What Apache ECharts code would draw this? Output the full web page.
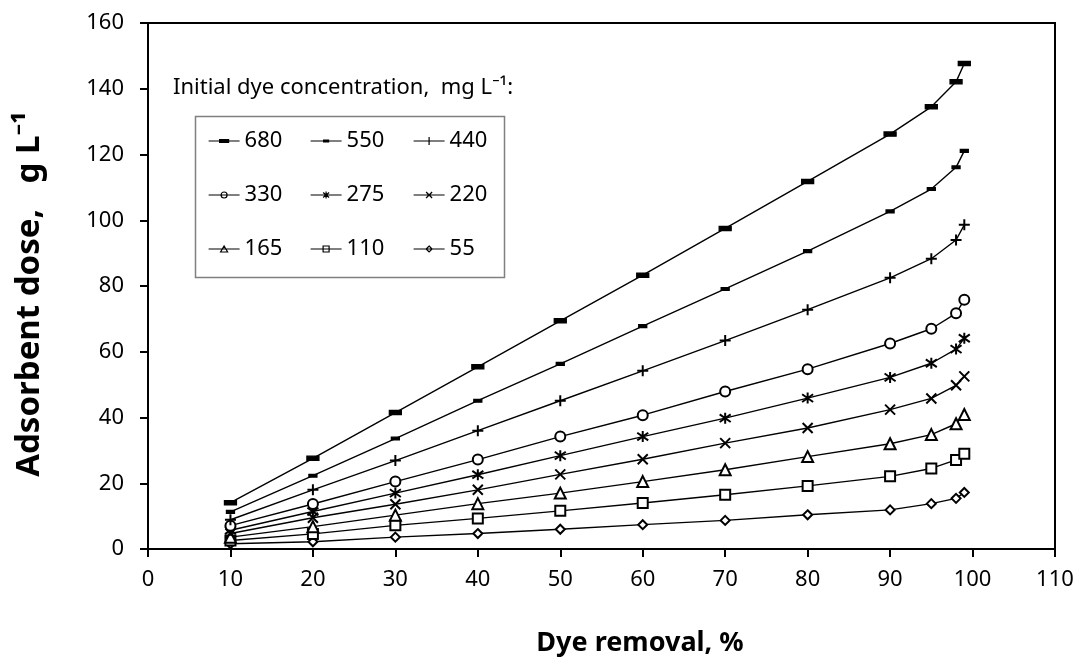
<!DOCTYPE html>
<html>
<head>
<meta charset="utf-8">
<script src="https://cdn.jsdelivr.net/npm/echarts@6/dist/echarts.min.js"></script>
<style>
html,body{margin:0;padding:0;background:#fff;}
#chart{width:1078px;height:657px;}
</style>
</head>
<body>
<div id="chart"></div>
<script>
// Dye removal (%) values
const removal = [10, 20, 30, 40, 50, 60, 70, 80, 90, 95, 98, 99];
// Series names (initial dye concentration, mg/L)
const seriesNames = ['680', '550', '440', '330', '275', '220', '165', '110', '55'];
// Adsorbent dose (g/L) for each initial concentration
const dose680 = [14.1, 27.6, 41.5, 55.4, 69.4, 83.3, 97.5, 111.8, 126.2, 134.5, 142.1, 147.7];
const dose550 = [11.3, 22.3, 33.6, 45.1, 56.3, 67.8, 79.1, 90.6, 102.7, 109.5, 116.1, 121.1];
const dose440 = [8.9, 18.0, 26.9, 36.0, 45.1, 54.2, 63.4, 72.8, 82.5, 88.3, 94.0, 98.6];
const dose330 = [7.1, 13.7, 20.5, 27.2, 34.2, 40.7, 47.9, 54.7, 62.5, 67.0, 71.7, 75.8];
const dose275 = [5.7, 11.4, 17.0, 22.6, 28.4, 34.2, 39.8, 45.9, 52.2, 56.5, 60.8, 64.1];
const dose220 = [4.7, 9.5, 13.6, 18.0, 22.7, 27.3, 32.2, 36.8, 42.4, 45.8, 49.8, 52.5];
const dose165 = [3.6, 6.8, 10.3, 13.8, 17.0, 20.5, 24.1, 28.1, 32.0, 34.8, 38.1, 40.9];
const dose110 = [2.6, 4.6, 7.2, 9.3, 11.6, 14.0, 16.5, 19.2, 22.1, 24.5, 27.1, 29.0];
const dose55 = [1.6, 2.2, 3.6, 4.7, 6.0, 7.4, 8.7, 10.4, 11.9, 13.8, 15.4, 17.2];
const doseData = [dose680, dose550, dose440, dose330, dose275, dose220, dose165, dose110, dose55];

const FONT = 'Noto Sans';
const symbols = [
  {symbol: 'path://M0,0H10V3.5H0Z', size: 12, keep: true},
  {symbol: 'path://M0,0H10V3.5H0Z', size: 8, keep: true},
  {symbol: 'emptyPath://M0,5L10,5M5,0L5,10', size: 11, keep: false},
  {symbol: 'emptyCircle', size: 10, keep: false},
  {symbol: 'emptyPath://M5,0L5,10M0.7,1.5L9.3,8.5M0.7,8.5L9.3,1.5', size: 11, keep: false},
  {symbol: 'emptyPath://M0,0L10,10M0,10L10,0', size: 10, keep: false},
  {symbol: 'emptyTriangle', size: 11, keep: false},
  {symbol: 'emptyRect', size: 10, keep: false},
  {symbol: 'emptyDiamond', size: 9, keep: false}
];

// legend icons: line + small marker, drawn in a 31 x 9 box
const BOX = 'M0,0M31,9M0,4.5L31,4.5';
const legendIcons = {
  '680': {icon: BOX + 'M11,3L20,3L20,6L11,6Z', fill: '#000'},
  '550': {icon: BOX + 'M13,3.5L18,3.5L18,5.5L13,5.5Z', fill: '#000'},
  '440': {icon: BOX + 'M15.5,0.5L15.5,8.5', fill: '#fff'},
  '330': {icon: BOX + 'M18.5,4.5A3,3,0,1,1,12.5,4.5A3,3,0,1,1,18.5,4.5Z', fill: '#fff'},
  '275': {icon: BOX + 'M15.5,1L15.5,8M12.5,2L18.5,7M12.5,7L18.5,2', fill: '#fff'},
  '220': {icon: BOX + 'M12.5,1.5L18.5,7.5M12.5,7.5L18.5,1.5', fill: '#fff'},
  '165': {icon: BOX + 'M15.5,1.5L19,7.5L12,7.5Z', fill: '#fff'},
  '110': {icon: BOX + 'M12.5,1.5L18.5,1.5L18.5,7.5L12.5,7.5Z', fill: '#fff'},
  '55':  {icon: BOX + 'M15.5,1.5L18.5,4.5L15.5,7.5L12.5,4.5Z', fill: '#fff'}
};

const series = seriesNames.map((name, i) => ({
  name: name,
  type: 'line',
  data: removal.map((x, j) => [x, doseData[i][j]]),
  symbol: symbols[i].symbol,
  symbolSize: symbols[i].size,
  symbolKeepAspect: symbols[i].keep,
  showAllSymbol: true,
  lineStyle: {color: '#000', width: 1.4},
  itemStyle: {color: '#000', borderColor: '#000', borderWidth: 1.3},
  emphasis: {disabled: true},
  z: 10 - i
}));

const legendCol = (names, left) => ({
  orient: 'vertical',
  left: left,
  top: 129,
  padding: 0,
  itemGap: 30,
  itemWidth: 31,
  itemHeight: 9,
  symbolKeepAspect: true,
  data: names.map(n => ({
    name: n,
    icon: 'path://' + legendIcons[n].icon.replace(/^/, ''),
    itemStyle: {color: legendIcons[n].fill, borderColor: '#000', borderWidth: 1.2}
  })),
  textStyle: {fontFamily: FONT, fontSize: 22, color: '#000', lineHeight: 24},
  selectedMode: false
});

const chart = echarts.init(document.getElementById('chart'), null, {renderer: 'canvas'});
chart.setOption({
  animation: false,
  backgroundColor: '#fff',
  grid: {left: 148, right: 23, top: 23, bottom: 108, show: true, borderColor: '#000', borderWidth: 2, backgroundColor: 'transparent'},
  xAxis: {
    type: 'value', min: 0, max: 110, interval: 10,
    axisLine: {show: true, lineStyle: {color: '#000', width: 2}},
    axisTick: {show: true, inside: false, length: 8, lineStyle: {color: '#000', width: 2}},
    axisLabel: {fontFamily: FONT, fontSize: 22, color: '#000', margin: 20},
    splitLine: {show: false}
  },
  yAxis: {
    type: 'value', min: 0, max: 160, interval: 20,
    axisLine: {show: true, lineStyle: {color: '#000', width: 2}},
    axisTick: {show: true, inside: false, length: 8, lineStyle: {color: '#000', width: 2}},
    axisLabel: {fontFamily: FONT, fontSize: 22, color: '#000', margin: 24},
    splitLine: {show: false}
  },
  legend: [
    legendCol(['680', '330', '165'], 208),
    legendCol(['550', '275', '110'], 310),
    legendCol(['440', '220', '55'], 413)
  ],
  graphic: [
    {type: 'rect', left: 193, top: 114, shape: {x: 0, y: 0, width: 309, height: 161},
     style: {fill: 'none', stroke: '#808080', lineWidth: 1.5}, z: 100},
    {type: 'text', x: 173, y: 88,
     style: {text: 'Initial dye concentration,  mg L⁻¹:', font: '22px "Noto Sans"', fill: '#000', align: 'left', verticalAlign: 'middle'}, z: 100},
    {type: 'text', x: 640, y: 643,
     style: {text: 'Dye removal, %', font: 'bold 27px "Noto Sans"', fill: '#000', align: 'center', verticalAlign: 'middle'}, z: 100},
    {type: 'text', x: 30, y: 294, rotation: Math.PI / 2,
     style: {text: 'Adsorbent dose,   g L⁻¹', font: 'bold 33px "Noto Sans"', fill: '#000', align: 'center', verticalAlign: 'middle'}, z: 100}
  ],
  series: series
});
</script>
</body>
</html>
